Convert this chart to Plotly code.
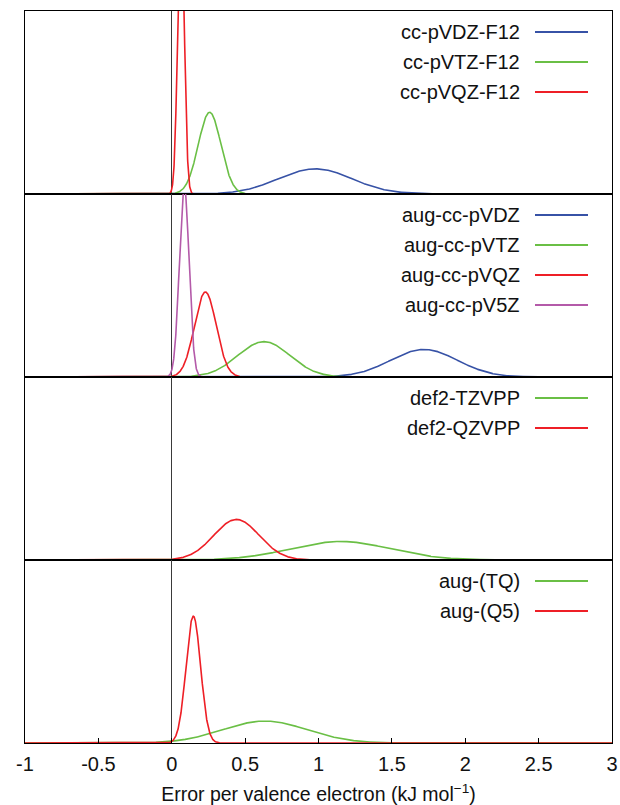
import numpy as np
import plotly.graph_objects as go
from plotly.subplots import make_subplots

# ---------------- data ----------------
# Each curve is a normal error distribution: mean error and standard deviation
# (kJ mol^-1 per valence electron), grouped by panel.
panel1_names = ["cc-pVDZ-F12", "cc-pVTZ-F12", "cc-pVQZ-F12"]
panel1_means = [0.977, 0.258, 0.063]
panel1_sds = [0.250, 0.077, 0.022]

panel2_names = ["aug-cc-pVDZ", "aug-cc-pVTZ", "aug-cc-pVQZ", "aug-cc-pV5Z"]
panel2_means = [1.719, 0.628, 0.229, 0.085]
panel2_sds = [0.228, 0.178, 0.074, 0.033]

panel3_names = ["def2-TZVPP", "def2-QZVPP"]
panel3_means = [1.150, 0.441]
panel3_sds = [0.340, 0.155]

panel4_names = ["aug-(TQ)", "aug-(Q5)"]
panel4_means = [0.635, 0.147]
panel4_sds = [0.286, 0.0496]

x_tick_values = [-1, -0.5, 0, 0.5, 1, 1.5, 2, 2.5, 3]
x_tick_labels = ["-1", "-0.5", "0", "0.5", "1", "1.5", "2", "2.5", "3"]
x_title = "Error per valence electron (kJ mol<sup>−1</sup>)"

# ---------------- styles ----------------
BLUE = "#3752a6"
GREEN = "#6abf45"
RED = "#ee1f26"
PURPLE = "#b45aa9"
panel_colors = [
    [BLUE, GREEN, RED],
    [BLUE, GREEN, RED, PURPLE],
    [GREEN, RED],
    [GREEN, RED],
]
FONT = "Liberation Sans, Arial, Helvetica, sans-serif"

panels = [
    (panel1_names, panel1_means, panel1_sds),
    (panel2_names, panel2_means, panel2_sds),
    (panel3_names, panel3_means, panel3_sds),
    (panel4_names, panel4_means, panel4_sds),
]

W, H = 620, 805
ML, MR, MT = 25, 8, 11
panel_h = 183
MB = H - MT - 4 * panel_h
plot_w = W - ML - MR
Y_MAX = 11.6

xs = np.linspace(-1, 3, 4001)


def normal_pdf(x, mu, sd):
    return np.exp(-0.5 * ((x - mu) / sd) ** 2) / (sd * np.sqrt(2 * np.pi))


fig = make_subplots(rows=4, cols=1, shared_xaxes=True, vertical_spacing=0)

text_right = (522 - ML) / plot_w
sample_x0 = (535 - ML) / plot_w
sample_x1 = (588 - ML) / plot_w

for r, (names, means, sds) in enumerate(panels, start=1):
    cols = panel_colors[r - 1]
    for i, (nm, mu, sd) in enumerate(zip(names, means, sds)):
        fig.add_trace(
            go.Scatter(x=xs, y=normal_pdf(xs, mu, sd), mode="lines", name=nm,
                       line=dict(color=cols[i], width=1.6),
                       showlegend=False, hoverinfo="skip"),
            row=r, col=1,
        )
        # gnuplot-style key: text then line sample
        off = 21 + 30 * i
        yd = 1 - off / panel_h
        sfx = "" if r == 1 else str(r)
        fig.add_annotation(
            x=text_right, y=yd, xref=f"x{sfx} domain", yref=f"y{sfx} domain",
            text=nm, showarrow=False, xanchor="right", yanchor="middle",
            font=dict(family=FONT, size=20, color="#111111"),
        )
        fig.add_shape(
            type="line", x0=sample_x0, x1=sample_x1, y0=yd, y1=yd,
            xref=f"x{sfx} domain", yref=f"y{sfx} domain",
            line=dict(color=cols[i], width=2),
        )

for r in range(1, 5):
    fig.update_yaxes(range=[0, Y_MAX], showticklabels=False, ticks="",
                     showgrid=False, zeroline=False, showline=True, mirror=True,
                     linecolor="black", linewidth=1.3, automargin=False,
                     row=r, col=1)
    fig.update_xaxes(range=[-1, 3], showgrid=False, zeroline=True,
                     zerolinecolor="#3a3a3a", zerolinewidth=1.1, showline=True,
                     mirror=True, linecolor="black", linewidth=1.3,
                     automargin=False, row=r, col=1,
                     ticks="" if r < 4 else "inside", showticklabels=(r == 4))

fig.update_xaxes(
    tickvals=x_tick_values, ticktext=x_tick_labels, ticklen=5, tickwidth=1.2,
    tickcolor="black", tickfont=dict(family=FONT, size=20, color="#111111"),
    ticklabelstandoff=3,
    title=dict(text=x_title, font=dict(family=FONT, size=19.5, color="#111111"),
               standoff=13),
    row=4, col=1,
)

fig.update_layout(width=W, height=H, autosize=False,
                  margin=dict(l=ML, r=MR, t=MT, b=MB, autoexpand=False),
                  paper_bgcolor="white", plot_bgcolor="white",
                  showlegend=False, font=dict(family=FONT))

# remove the browser's default 8px page margin so the figure fills the window
fig.write_html(
    "out.html",
    config={"responsive": False, "displayModeBar": False},
    post_script="document.body.style.margin='0';document.body.style.overflow='hidden';",
)
